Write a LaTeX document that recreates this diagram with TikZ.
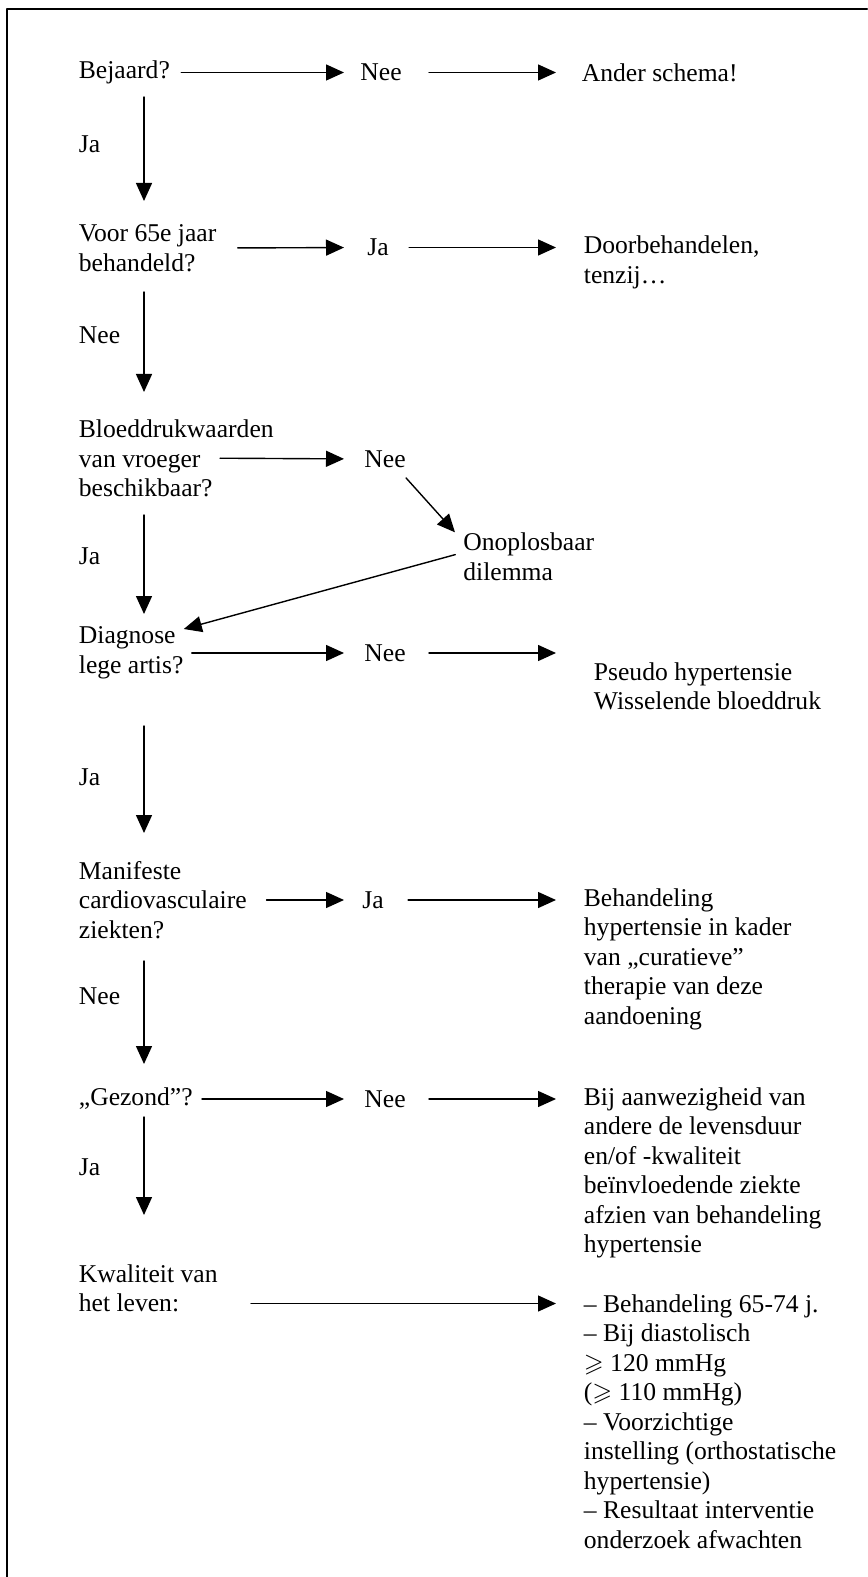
\documentclass[tikz,border=0pt]{standalone}
\usepackage{amssymb}
\usepackage{fontspec}
\setmainfont{Liberation Serif}
\usetikzlibrary{arrows.meta}

\begin{document}
\begin{tikzpicture}[x=0.5pt, y=-0.5pt, line cap=round, line join=round,
    link/.style={line width=0.7pt, -{Triangle[length=9pt, width=8pt]}},
    frame/.style={line width=1pt},
    lbl/.style={anchor=west, inner sep=0pt, align=left,
      font=\fontsize{12.8}{14.75}\selectfont}]
  \useasboundingbox (0,0) rectangle (867,1577);
  % --- frame (top and left edge only) -------------------------------
  \draw[frame] (867,9) -- (7,9) -- (7,1577);
  \coordinate (spine) at (144,0);
  % --- questions, left column ----------------------------------------
  \node[lbl] (q1) at (78.5,72.5)  {Bejaard?};
  \node[lbl] (q2) at (78.5,248)   {Voor 65e jaar\\behandeld?};
  \node[lbl] (q3) at (78.5,458.5) {Bloeddrukwaarden\\van vroeger\\beschikbaar?};
  \node[lbl] (q4) at (78.5,653)   {Diagnose\\lege artis?};
  \node[lbl] (q5) at (78.5,900)   {Manifeste\\cardiovasculaire\\ziekten?};
  \node[lbl] (q6) at (78.5,1099)  {„Gezond”?};
  \node[lbl] (q7) at (78.5,1288.5) {Kwaliteit van\\het leven:};
  % answers on the main line
  \node[lbl] (a1) at (78.5,144)  {Ja};
  \node[lbl] (a2) at (78.5,335)  {Nee};
  \node[lbl] (a3) at (78.5,556)  {Ja};
  \node[lbl] (a4) at (78.5,777)  {Ja};
  \node[lbl] (a5) at (78.5,996)  {Nee};
  \node[lbl] (a6) at (78.5,1167) {Ja};
  % --- answers, middle column ----------------------------------------
  \node[lbl] (n1) at (360,72.5) {Nee};
  \node[lbl] (n2) at (367,247.5) {Ja};
  \node[lbl] (n3) at (364,459)  {Nee};
  \node[lbl] (dil) at (463,556.5) {Onoplosbaar\\dilemma};
  \node[lbl] (n4) at (364,653)  {Nee};
  \node[lbl] (n5) at (362,900)  {Ja};
  \node[lbl] (n6) at (364,1099) {Nee};
  % --- outcomes, right column ----------------------------------------
  \node[lbl] (r1) at (581.5,72.5) {Ander schema!};
  \node[lbl] (r2) at (583.5,262.5) {Doorbehandelen,\\tenzij\ldots};
  \node[lbl] (r4) at (593.5,686.5) {Pseudo hypertensie\\Wisselende bloeddruk};
  \node[lbl] (r5) at (583.5,959) {Behandeling\\hypertensie in kader\\van „curatieve”\\therapie van deze\\aandoening};
  \node[lbl] (r6) at (583.5,1172.75) {Bij aanwezigheid van\\andere de levensduur\\en/of -kwaliteit\\beïnvloedende ziekte\\afzien van behandeling\\hypertensie};
  \node[lbl] (r7) at (583.5,1421.5) {– Behandeling 65-74 j.\\– Bij diastolisch\\$\geqslant$ 120 mmHg\\($\geqslant$ 110 mmHg)\\– Voorzichtige\\instelling (orthostatische\\hypertensie)\\– Resultaat interventie\\onderzoek afwachten};
  \coordinate (t7) at (251,1303.5);
  % --- main line downwards --------------------------------------------
  \draw[link, shorten <=12.25pt, shorten >=23.5pt] (q1 -| spine) -- (q2 -| spine);
  \draw[link, shorten <=22pt, shorten >=33.25pt] (q2 -| spine) -- (q3 -| spine);
  \draw[link, shorten <=28.25pt, shorten >=19.5pt] (q3 -| spine) -- (q4 -| spine);
  \draw[link, shorten <=36.5pt, shorten >=33.5pt] (q4 -| spine) -- (q5 -| spine);
  \draw[link, shorten <=30.5pt, shorten >=17.5pt] (q5 -| spine) -- (q6 -| spine);
  \draw[link, shorten <=9pt, shorten >=36.75pt] (q6 -| spine) -- (q7 -| spine);
  % --- branches to the right ------------------------------------------
  \draw[link, shorten <=5.5pt, shorten >=8pt] (q1.east) -- (n1.west);
  \draw[link, shorten <=13.5pt, shorten >=12.75pt] (n1.east) -- (r1.west);
  \draw[link, shorten <=10.5pt, shorten >=11.5pt] (q2.east) -- (n2.west);
  \draw[link, shorten <=10pt, shorten >=13.75pt] (n2.east) -- (n2.east -| r2.west);
  \draw[link, shorten <=-27pt, shorten >=10pt] (q3.east) -- (n3.west);
  \draw[link] ([yshift=-5pt]n3.south east) -- ([xshift=-4pt]dil.north west);
  \draw[link, shorten <=4pt] ([yshift=2pt]dil.west) -- ([yshift=12pt]q4.east);
  \draw[link, shorten <=4pt, shorten >=10pt] (q4.east) -- (n4.west);
  \draw[link, shorten <=11.5pt, shorten >=18.75pt] (n4.east) -- (n4.east -| r4.west);
  \draw[link, shorten <=9.75pt, shorten >=9pt] (q5.east) -- (n5.west);
  \draw[link, shorten <=12pt, shorten >=13.75pt] (n5.east) -- (n5.east -| r5.west);
  \draw[link, shorten <=4.5pt, shorten >=10pt] (q6.east) -- (n6.west);
  \draw[link, shorten <=11.5pt, shorten >=13.75pt] (n6.east) -- (n6.east -| r6.west);
  \draw[link, shorten >=13.75pt] (t7) -- (t7 -| r7.west);
\end{tikzpicture}
\end{document}
